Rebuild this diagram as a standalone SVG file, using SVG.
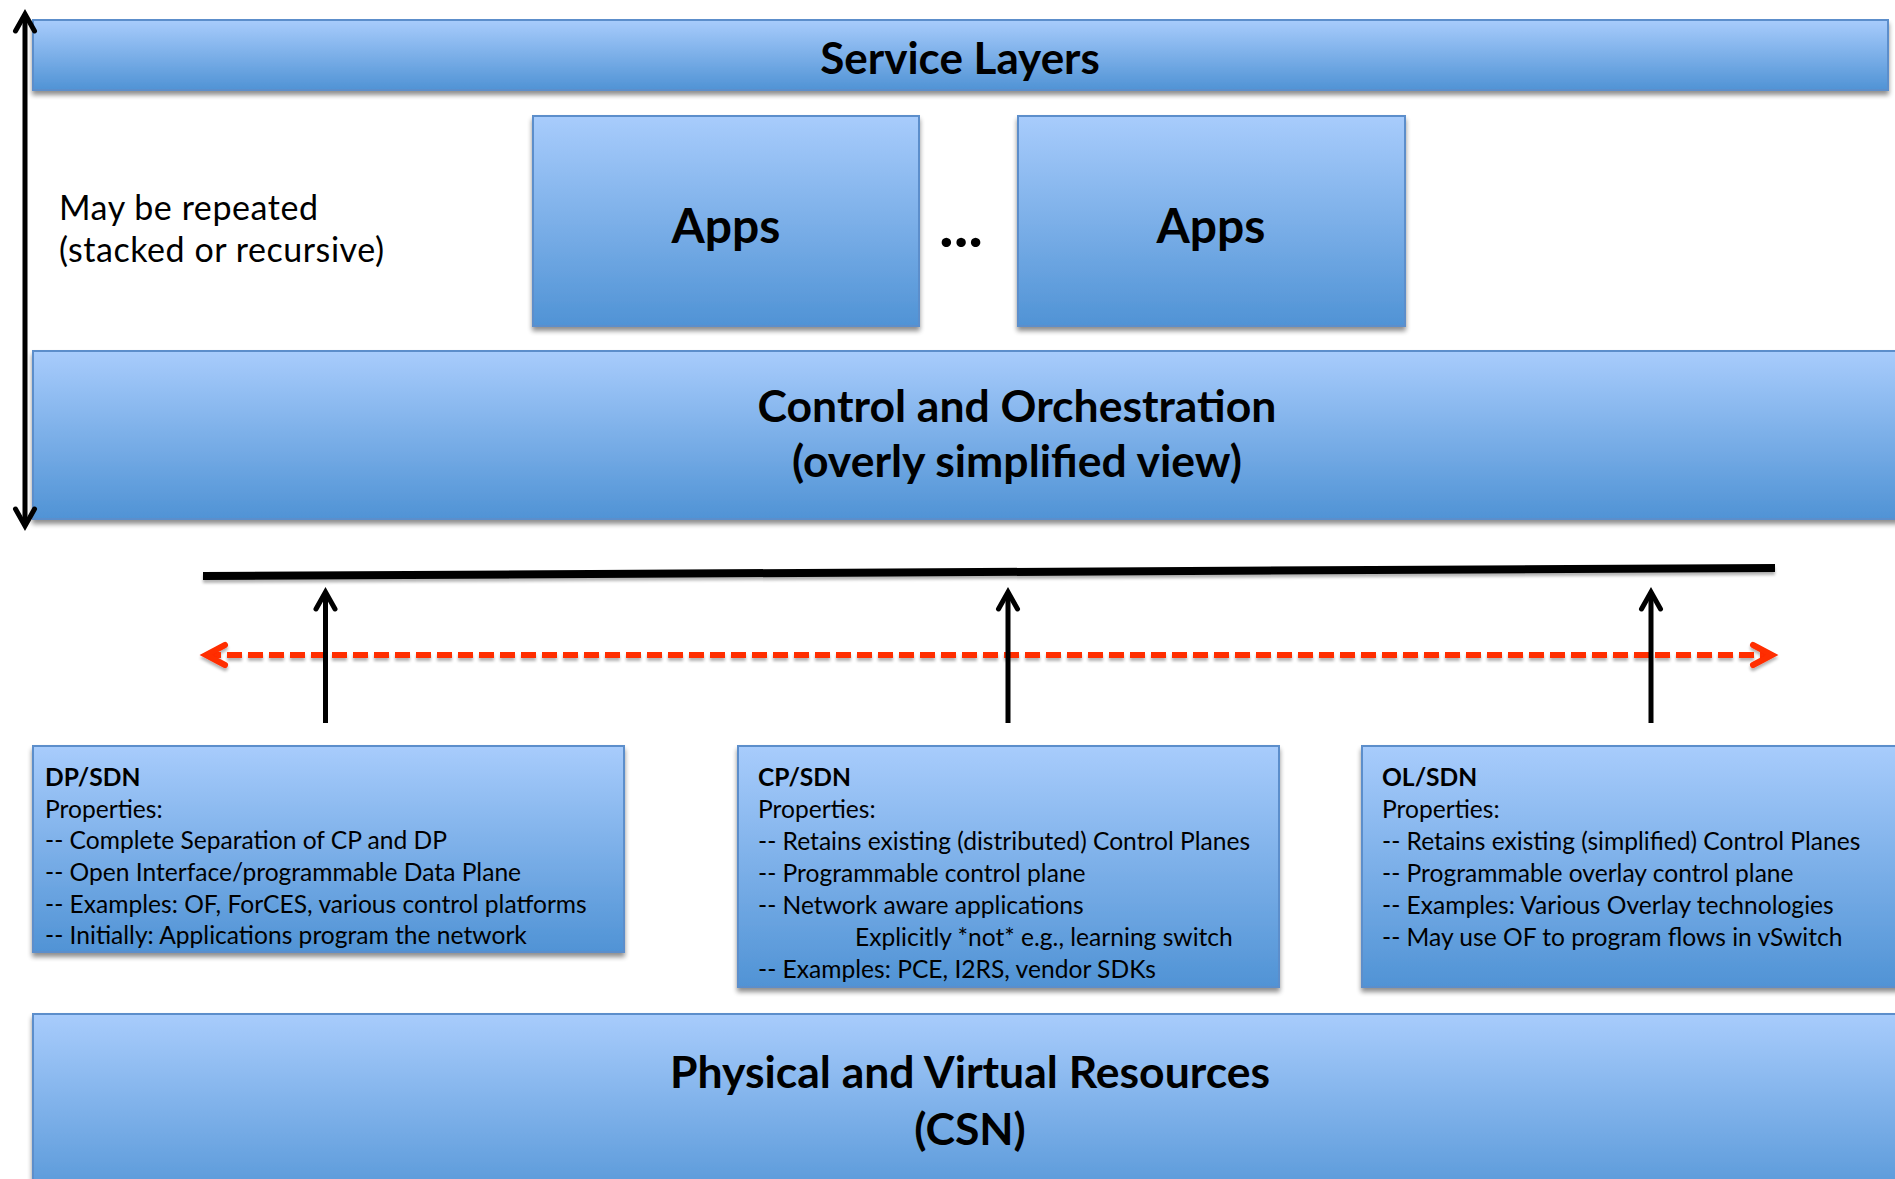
<svg xmlns="http://www.w3.org/2000/svg" width="1895" height="1179" viewBox="0 0 1895 1179">
  <style>
    .box { fill: url(#blueGrad); stroke: #5B8ECB; stroke-width: 2; filter: url(#shadow); }
    .title { font-family: Lato, "Liberation Sans", sans-serif; font-weight: bold; fill: #000; text-anchor: middle; }
    .body { font-family: Lato, "Liberation Sans", sans-serif; font-size: 24.6px; fill: #000; }
    .bodyb { font-family: Lato, "Liberation Sans", sans-serif; font-size: 24.6px; font-weight: bold; fill: #000; }
    .note { font-family: Lato, "Liberation Sans", sans-serif; font-size: 34px; fill: #000; }
    .blk { stroke: #000; stroke-width: 5; fill: none; }
    .red { stroke: #FF2D00; stroke-width: 6; fill: none; stroke-dasharray: 15 6; }
  </style>
  <defs>
    <linearGradient id="blueGrad" x1="0" y1="0" x2="0" y2="1">
      <stop offset="0" stop-color="#A8CCFC"/>
      <stop offset="1" stop-color="#5093D5"/>
    </linearGradient>
    <filter id="shadow" x="-5%" y="-5%" width="110%" height="120%">
      <feGaussianBlur in="SourceAlpha" stdDeviation="2.5"/>
      <feOffset dx="0" dy="4" result="b"/>
      <feComponentTransfer><feFuncA type="linear" slope="0.45"/></feComponentTransfer>
      <feMerge><feMergeNode/><feMergeNode in="SourceGraphic"/></feMerge>
    </filter>
    <filter id="lshadow" filterUnits="userSpaceOnUse" x="150" y="530" width="1700" height="160">
      <feGaussianBlur in="SourceAlpha" stdDeviation="1.5"/>
      <feOffset dx="0" dy="3" result="b"/>
      <feComponentTransfer><feFuncA type="linear" slope="0.3"/></feComponentTransfer>
      <feMerge><feMergeNode/><feMergeNode in="SourceGraphic"/></feMerge>
    </filter>
    <marker id="arrBlk" markerUnits="userSpaceOnUse" markerWidth="40" markerHeight="40" viewBox="-30 -20 40 40" refX="0" refY="0" orient="auto-start-reverse">
      <path d="M-17,-9.5 L0,0 L-17,9.5" fill="none" stroke="#000" stroke-width="5" stroke-linecap="round" stroke-linejoin="miter"/>
    </marker>
    <marker id="arrRed" markerUnits="userSpaceOnUse" markerWidth="40" markerHeight="40" viewBox="-30 -20 40 40" refX="0" refY="0" orient="auto-start-reverse">
      <path d="M-19,-10 L0,0 L-19,10" fill="none" stroke="#FF2D00" stroke-width="6" stroke-linecap="round" stroke-linejoin="miter"/>
    </marker>
  </defs>

  <rect width="1895" height="1179" fill="#FFFFFF"/>

  <g id="service-layers">
    <rect class="box" x="33" y="20" width="1855" height="70"/>
    <text class="title" x="960" y="74" font-size="44">Service Layers</text>
  </g>

  <g id="note-repeated">
    <text class="note" x="59" y="220" textLength="259">May be repeated</text>
    <text class="note" x="59" y="262" textLength="325">(stacked or recursive)</text>
  </g>

  <g id="apps-1">
    <rect class="box" x="533" y="116" width="386" height="210"/>
    <text class="title" x="726" y="243" font-size="48">Apps</text>
  </g>

  <g id="ellipsis">
    <text class="title" x="961" y="247" font-size="62">...</text>
  </g>

  <g id="apps-2">
    <rect class="box" x="1018" y="116" width="387" height="210"/>
    <text class="title" x="1211" y="243" font-size="48">Apps</text>
  </g>

  <g id="control-orchestration">
    <rect class="box" x="33" y="351" width="1900" height="168"/>
    <text class="title" x="1017" y="422" font-size="44.5">Control and Orchestration</text>
    <text class="title" x="1017" y="477" font-size="44.5">(overly simplified view)</text>
  </g>

  <g id="dp-sdn">
    <rect class="box" x="33" y="746" width="591" height="206"/>
    <text class="bodyb" x="45" y="786">DP/SDN</text>
    <text class="body" x="45" y="818">Properties:</text>
    <text class="body" x="45" y="849">-- Complete Separation of CP and DP</text>
    <text class="body" x="45" y="881">-- Open Interface/programmable Data Plane</text>
    <text class="body" x="45" y="913">-- Examples: OF, ForCES, various control platforms</text>
    <text class="body" x="45" y="944">-- Initially: Applications program the network</text>
  </g>

  <g id="cp-sdn">
    <rect class="box" x="738" y="746" width="541" height="241"/>
    <text class="bodyb" x="758" y="786">CP/SDN</text>
    <text class="body" x="758" y="818">Properties:</text>
    <text class="body" x="758" y="850">-- Retains existing (distributed) Control Planes</text>
    <text class="body" x="758" y="882">-- Programmable control plane</text>
    <text class="body" x="758" y="914">-- Network aware applications</text>
    <text class="body" x="855" y="946">Explicitly *not* e.g., learning switch</text>
    <text class="body" x="758" y="978">-- Examples: PCE, I2RS, vendor SDKs</text>
  </g>

  <g id="ol-sdn">
    <rect class="box" x="1362" y="746" width="570" height="241"/>
    <text class="bodyb" x="1382" y="786">OL/SDN</text>
    <text class="body" x="1382" y="818">Properties:</text>
    <text class="body" x="1382" y="850">-- Retains existing (simplified) Control Planes</text>
    <text class="body" x="1382" y="882">-- Programmable overlay control plane</text>
    <text class="body" x="1382" y="914">-- Examples: Various Overlay technologies</text>
    <text class="body" x="1382" y="946">-- May use OF to program flows in vSwitch</text>
  </g>

  <g id="physical-virtual">
    <rect class="box" x="33" y="1014" width="1900" height="200"/>
    <text class="title" x="970" y="1088" font-size="44.5">Physical and Virtual Resources</text>
    <text class="title" x="970" y="1145" font-size="44.5">(CSN)</text>
  </g>

  <g id="connectors">
    <line class="blk" x1="25" y1="14" x2="25" y2="526" marker-start="url(#arrBlk)" marker-end="url(#arrBlk)"/>
    <line x1="203" y1="576" x2="1775" y2="568" stroke="#000" stroke-width="8" filter="url(#lshadow)"/>
    <line class="red" x1="206" y1="655" x2="1772" y2="655" marker-start="url(#arrRed)" marker-end="url(#arrRed)" filter="url(#lshadow)"/>
    <line class="blk" x1="325.5" y1="723" x2="325.5" y2="592" marker-end="url(#arrBlk)"/>
    <line class="blk" x1="1008" y1="723" x2="1008" y2="592" marker-end="url(#arrBlk)"/>
    <line class="blk" x1="1651" y1="723" x2="1651" y2="592" marker-end="url(#arrBlk)"/>
  </g>
</svg>
